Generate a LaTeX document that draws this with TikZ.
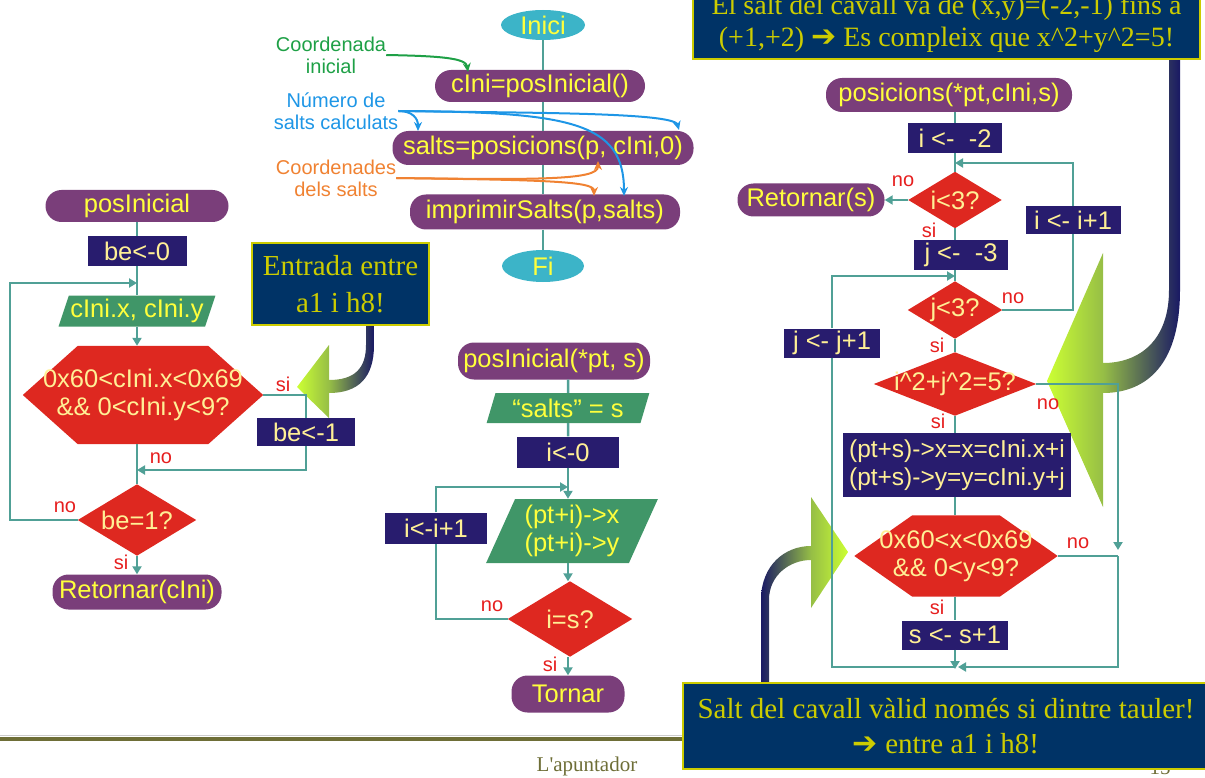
\documentclass[tikz,border=0pt]{standalone}
\usepackage{fontspec}
\setmainfont{Liberation Serif}
\newfontfamily\sansfnt{Liberation Sans}
\newfontfamily\symfnt{DejaVu Sans}
\usetikzlibrary{shapes.geometric,arrows.meta,backgrounds}

\definecolor{termpurple}{RGB}{122,62,122}
\definecolor{termcyan}{RGB}{60,180,200}
\definecolor{procnavy}{RGB}{40,28,110}
\definecolor{iogreen}{RGB}{64,150,104}
\definecolor{decred}{RGB}{222,40,32}
\definecolor{flowteal}{RGB}{80,160,150}
\definecolor{textyel}{RGB}{255,255,60}
\definecolor{textcream}{RGB}{255,240,150}
\definecolor{labred}{RGB}{230,30,30}
\definecolor{notenavy}{RGB}{0,51,102}
\definecolor{noteyel}{RGB}{204,204,0}
\definecolor{annogreen}{RGB}{30,160,70}
\definecolor{annoblue}{RGB}{30,150,230}
\definecolor{annoorange}{RGB}{240,130,50}
\definecolor{arrnavy}{RGB}{25,25,100}
\definecolor{arrlime}{RGB}{204,255,51}
\definecolor{arrolive}{RGB}{150,190,70}
\definecolor{footolive}{RGB}{110,110,55}

% red fill behind a test node: hexagon (#2 = chamfer) or diamond
\newcommand{\hexfill}[2]{\fill[decred] (#1.west) -- ([xshift=#2]#1.north west) -- ([xshift=-#2]#1.north east) -- (#1.east) -- ([xshift=-#2]#1.south east) -- ([xshift=#2]#1.south west) -- cycle;}
\newcommand{\diafill}[1]{\fill[decred] (#1.west) -- (#1.north) -- (#1.east) -- (#1.south) -- cycle;}

\tikzset{
  base/.style={inner sep=0pt, align=center, font=\sansfnt\fontsize{25.5}{28}\selectfont},
  term/.style={base, rectangle, rounded corners=16pt, fill=termpurple, text=textyel},
  startstop/.style={base, ellipse, fill=termcyan, text=textyel},
  proc/.style={base, rectangle, fill=procnavy, text=textcream},
  io/.style={base, trapezium, trapezium stretches=true, fill=iogreen, text=textyel},
  test/.style={base, rectangle, text=textcream},
  flow/.style={draw=flowteal, line width=2.5pt},
  arr/.style={flow, -{Triangle[length=8pt,width=9pt]}},
  lab/.style={inner sep=0pt, text=labred, font=\sansfnt\fontsize{20}{22}\selectfont},
  anno/.style={inner sep=0pt, align=center, font=\sansfnt\fontsize{20}{22}\selectfont},
  annoarr/.style={line width=2pt, -{Stealth[length=9pt,width=8pt]}},
  note/.style={draw=noteyel, line width=2pt, fill=notenavy, text=noteyel, inner sep=0pt, align=center},
}

\begin{document}
\begin{tikzpicture}[x=1pt,y=-1pt]
  \useasboundingbox (0,0) rectangle (1205,778);

  % main program
  \node[startstop, minimum width=84pt, minimum height=30pt] (inici) at (543,25) {Inici};
  \node[term, minimum width=210pt, minimum height=32pt] (callini) at (540,86) {cIni=posInicial()};
  \node[term, minimum width=301pt, minimum height=34pt] (callpos) at (543,148) {salts=posicions(p, cIni,0)};
  \node[term, minimum width=270pt, minimum height=35pt] (callimp) at (545,212) {imprimirSalts(p,salts)};
  \node[startstop, minimum width=82pt, minimum height=32pt] (fi) at (543,266) {Fi};
  \draw[flow] (inici.south) -- (inici.south |- callini.north);
  \draw[flow] (inici.south |- callini.south) -- (inici.south |- callpos.north);
  \draw[flow] (inici.south |- callpos.south) -- (inici.south |- callimp.north);
  \draw[flow] (inici.south |- callimp.south) -- (fi.north);

  % notes on the call
  \node[anno, text=annogreen] (ncoord) at (331,55) {Coordenada\\inicial};
  \node[anno, text=annoblue] (nnum) at (336,111) {Número de\\salts calculats};
  \node[anno, text=annoorange] (ncds) at (336,178) {Coordenades\\dels salts};
  \coordinate (tcini) at (468,72);
  \coordinate (tsalts) at (418,131);
  \coordinate (tzero) at (679,130);
  \coordinate (tsimp) at (624,196);
  \coordinate (tpup) at (598,161);
  \coordinate (tpdn) at (594,196);
  \draw[annoarr, annogreen] (ncoord.east) .. controls (440,56) and (466,58) .. (tcini);
  \draw[annoarr, annoblue] (nnum.east) .. controls (412,111) and (418,118) .. (tsalts);
  \draw[annoarr, annoblue] (nnum.east) .. controls (520,113) and (674,112) .. (tzero);
  \draw[annoarr, annoblue] (nnum.east) .. controls (570,112) and (624,122) .. (tsimp);
  \draw[annoarr, annoorange] (ncds.east) .. controls (540,180) and (598,180) .. (tpup);
  \draw[annoarr, annoorange] (ncds.east) .. controls (540,180) and (594,181) .. (tpdn);

  % posInicial
  \node[term, minimum width=183pt, minimum height=32pt] (pinit) at (137,206) {posInicial};
  \node[proc, minimum width=99pt, minimum height=30pt] (be0) at (137,251) {be<-0};
  \node[io, trapezium left angle=67, trapezium right angle=113, minimum width=157pt, minimum height=31pt] (rdcini) at (137,311) {cIni.x, cIni.y};
  \node[test, minimum width=240pt, minimum height=98pt] (chk1) at (143,395) {0x60<cIni.x<0x69\\\&\& 0<cIni.y<9?};
  \node[proc, minimum width=98pt, minimum height=28pt] (be1) at (306,432) {be<-1};
  \node[test, minimum width=118pt, minimum height=71pt] (isbe1) at (137,520) {be=1?};
  \node[term, minimum width=169pt, minimum height=35pt] (retc) at (137,592) {Retornar(cIni)};
  \coordinate (mrg1) at (137,470);
  \coordinate (lp1) at (10,283);
  \coordinate (top1) at (137,283);
  \draw[flow] (pinit) -- (be0);
  \draw[flow] (be0) -- (rdcini);
  \draw[arr] (rdcini.south) -- (rdcini.south |- chk1.north);
  \draw[flow] (chk1.east) -| (be1.north);
  \draw[arr] (be1.south) |- (mrg1);
  \draw[flow] (pinit |- chk1.south) -- (isbe1.north);
  \draw[arr] (isbe1.west) -| (lp1) -- (top1);
  \draw[arr] (isbe1.south) -- (retc.north);
  \node[lab] (l1si) at (283,384) {si};
  \node[lab] (l1no) at (161,458) {no};
  \node[lab] (l2no) at (65,507) {no};
  \node[lab] (l2si) at (121,562) {si};

  % posInicial(*pt, s)
  \node[term, minimum width=192pt, minimum height=37pt] (pinit2) at (554,361) {posInicial(*pt, s)};
  \node[io, trapezium left angle=70, trapezium right angle=110, minimum width=163pt, minimum height=30pt] (rds) at (568,408) {“salts” = s};
  \node[proc, minimum width=102pt, minimum height=31pt] (i0) at (568,452) {i<-0};
  \node[io, trapezium left angle=65, trapezium right angle=115, minimum width=172pt, minimum height=64pt] (rdpt) at (572,531) {(pt+i)->x\\(pt+i)->y};
  \node[test, minimum width=124pt, minimum height=75pt] (ieqs) at (570,619) {i=s?};
  \node[proc, minimum width=102pt, minimum height=31pt] (iinc) at (436,528) {i<-i+1};
  \node[term, minimum width=113pt, minimum height=37pt] (tornar) at (568,694) {Tornar};
  \coordinate (lp2) at (568,487);
  \draw[flow] (i0 |- pinit2.south) -- (rds.north);
  \draw[flow] (rds) -- (i0);
  \draw[arr] (i0.south) -- (i0 |- rdpt.north);
  \draw[arr] (i0 |- rdpt.south) -- (i0 |- ieqs.north);
  \draw[flow] (ieqs.west) -| (iinc.south);
  \draw[arr] (iinc.north) |- (lp2);
  \draw[arr] (i0 |- ieqs.south) -- (tornar.north);
  \node[lab] (l3no) at (492,606) {no};
  \node[lab] (l3si) at (550,664) {si};

  % posicions(*pt,cIni,s)
  \node[term, minimum width=246pt, minimum height=34pt] (posic) at (949,95) {posicions(*pt,cIni,s)};
  \node[proc, minimum width=94pt, minimum height=30pt] (im2) at (955,138) {i <-\ \ -2};
  \node[test, minimum width=93pt, minimum height=56pt] (ilt3) at (955,200) {i<3?};
  \node[term, minimum width=147pt, minimum height=33pt] (rets) at (811,200) {Retornar(s)};
  \node[proc, minimum width=95pt, minimum height=28pt] (iinc2) at (1073,220) {i <- i+1};
  \node[proc, minimum width=94pt, minimum height=30pt] (jm3) at (961,255) {j <-\ \ -3};
  \node[test, minimum width=94pt, minimum height=57pt] (jlt3) at (955,310) {j<3?};
  \node[proc, minimum width=96pt, minimum height=29pt] (jinc) at (832,343) {j <- j+1};
  \node[test, minimum width=162pt, minimum height=63pt] (sq5) at (955,384) {i\textasciicircum 2+j\textasciicircum 2=5?};
  \node[proc, minimum width=228pt, minimum height=64pt, font=\sansfnt\fontsize{24.5}{28}\selectfont] (setpt) at (957,465) {(pt+s)->x=x=cIni.x+i\\(pt+s)->y=y=cIni.y+j};
  \node[test, minimum width=203pt, minimum height=81pt] (chk2) at (956,556) {0x60<x<0x69\\\&\& 0<y<9?};
  \node[proc, minimum width=106pt, minimum height=29pt] (sinc) at (955,635) {s <- s+1};
  \coordinate (itop) at (955,163);
  \coordinate (jtop) at (955,276);
  \coordinate (nojoin) at (1118,550);
  \coordinate (jmrg) at (955,667);
  \draw[flow] (im2 |- posic.south) -- (im2.north);
  \draw[flow] (im2.south) -- (ilt3.north);
  \draw[arr] (ilt3.west) -- (rets.east);
  \draw[flow] (ilt3.south) -- (ilt3.south |- jm3.north);
  \draw[flow] (ilt3.south |- jm3.south) -- (jlt3.north);
  \draw[flow] (jlt3.east) -| (iinc2.south);
  \draw[arr] (iinc2.north) |- (itop);
  \draw[flow] (jlt3.south) -- (sq5.north);
  \draw[flow] (sq5.south) -- (sq5.south |- setpt.north);
  \draw[flow] (sq5.south |- setpt.south) -- (sq5.south |- chk2.north);
  \draw[flow] (sq5.south |- chk2.south) -- (sinc.north);
  \draw[arr] (sinc.south) -- ([yshift=-2pt]jmrg);
  \draw[arr] (sq5.east) -| (nojoin);
  \draw[flow] (chk2.east) -- (chk2.east -| nojoin);
  \draw[arr] (chk2.east -| nojoin) |- ([xshift=3pt]jmrg);
  \draw[flow] (jmrg) -| (jinc.south);
  \draw[arr] (jinc.north) |- (jtop);
  \node[lab] (l4no) at (903,181) {no};
  \node[lab] (l4si) at (929,230) {si};
  \node[lab] (l5no) at (1013,298) {no};
  \node[lab] (l5si) at (937,345) {si};
  \node[lab] (l6no) at (1048,404) {no};
  \node[lab] (l6si) at (938,421) {si};
  \node[lab] (l7no) at (1078,543) {no};
  \node[lab] (l7si) at (937,607) {si};

  % footer
  \node[anchor=base, text=footolive, font=\fontsize{21}{24}\selectfont] (foot) at (587,771) {L\textquotesingle apuntador};
  \node[anchor=base, text=footolive, font=\fontsize{21}{24}\selectfont] (pgnum) at (1160,774) {15};

  \begin{pgfonlayer}{background}
    \draw[gray!40, line width=1pt] (0,735.5) -- (1205,735.5);
    \draw[footolive, line width=4pt] (0,739) -- (1205,739);
    % big arrows
    \shade[left color=arrolive, right color=arrnavy] (1103,363) .. controls (1140,363) and (1169,340) .. (1169,290) -- (1169,55) -- (1180,55) -- (1180,290) .. controls (1180,372) and (1140,393) .. (1103,393) -- cycle;
    \shade[left color=arrlime, right color=arrolive] (1047,381) -- (1103,253) -- (1103,507) -- cycle;
    \shade[left color=arrolive, right color=arrnavy] (329,380) .. controls (355,380) and (366,368) .. (366,345) -- (366,320) -- (374,320) -- (374,345) .. controls (374,378) and (358,393) .. (329,393) -- cycle;
    \shade[left color=arrlime, right color=arrolive] (297,387) -- (329,345) -- (329,418) -- cycle;
    \shade[left color=arrnavy, right color=arrolive] (761,690) -- (761,600) .. controls (761,565) and (785,546) .. (811,546) -- (811,560) .. controls (790,560) and (769,575) .. (769,600) -- (769,690) -- cycle;
    \shade[left color=arrolive, right color=arrlime] (848,552) -- (811,497) -- (811,608) -- cycle;
    % red test shapes
    \hexfill{chk1}{55pt}
    \hexfill{chk2}{58pt}
    \diafill{isbe1}
    \diafill{ieqs}
    \diafill{ilt3}
    \diafill{jlt3}
    \diafill{sq5}
  \end{pgfonlayer}

  % callouts
  \node[note, minimum width=177pt, minimum height=82pt, font=\fontsize{29}{37}\selectfont] (entrada) at (340.5,284) {Entrada entre\\a1 i h8!};
  \node[note, anchor=south, minimum width=507pt, inner ysep=6pt, font=\fontsize{28}{32}\selectfont] (cavall) at (946.5,60) {El salt del cavall va de (x,y)=(-2,-1) fins a\\(+1,+2) {\symfnt\fontsize{30}{30}\selectfont ➔} Es compleix que x\textasciicircum 2+y\textasciicircum 2=5!};
  \node[note, minimum width=526pt, minimum height=86pt, font=\fontsize{29}{35}\selectfont] (valid) at (946,726) {Salt del cavall vàlid només si dintre tauler!\\{\symfnt\fontsize{30}{30}\selectfont ➔} entre a1 i h8!};
\end{tikzpicture}
\end{document}
